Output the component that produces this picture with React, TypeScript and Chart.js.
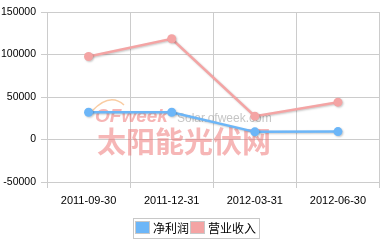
import React, { useEffect, useRef } from "react";
import { Chart, registerables } from "chart.js";

Chart.register(...registerables);

const categories = ["2011-09-30", "2011-12-31", "2012-03-31", "2012-06-30"];
const netProfit = [32000, 32000, 9000, 9300];
const revenue = [97600, 118500, 27500, 43900];
const seriesNames = ["净利润", "营业收入"];
const seriesColors = ["#6cb6f8", "#f4a4a4"];
const yTicks = [-50000, 0, 50000, 100000, 150000];

const watermark = {
  id: "watermark",
  beforeDatasetsDraw(chart: any) {
    const ctx = chart.ctx;
    ctx.save();
    ctx.strokeStyle = "rgba(245,170,100,0.6)";
    ctx.lineWidth = 1.5;
    ctx.beginPath();
    ctx.moveTo(92, 111);
    ctx.quadraticCurveTo(110, 92, 124, 105);
    ctx.stroke();
    ctx.textBaseline = "alphabetic";
    ctx.textAlign = "left";
    ctx.fillStyle = "rgba(238,120,120,0.55)";
    ctx.font = "italic bold 19px 'Liberation Sans', Arial, sans-serif";
    ctx.fillText("OFweek", 95, 122);
    ctx.fillStyle = "rgba(150,150,150,0.55)";
    ctx.font = "12px 'Liberation Sans', Arial, sans-serif";
    ctx.fillText("Solar.ofweek.com", 177, 122);
    ctx.fillStyle = "rgba(238,110,110,0.5)";
    ctx.font = "bold 29px 'Noto Sans CJK SC', sans-serif";
    ctx.fillText("太阳能光伏网", 97, 153);
    ctx.restore();
  },
};

const shadow = {
  id: "shadow",
  beforeDatasetsDraw(chart: any) {
    const ctx = chart.ctx;
    ctx.save();
    ctx.shadowColor = "rgba(0,0,0,0.22)";
    ctx.shadowBlur = 2;
    ctx.shadowOffsetX = 1;
    ctx.shadowOffsetY = 1;
  },
  afterDatasetsDraw(chart: any) {
    chart.ctx.restore();
  },
};

const boxLegend = {
  id: "boxLegend",
  afterDraw(chart: any) {
    const ctx = chart.ctx;
    ctx.save();
    ctx.font = "12px 'Noto Sans CJK SC', sans-serif";
    ctx.textBaseline = "middle";
    ctx.textAlign = "left";
    const y = 228;
    let x = 136;
    const widths = chart.data.datasets.map((d: any) => ctx.measureText(d.label).width);
    const total = widths.reduce((a: number, b: number) => a + b, 0) + chart.data.datasets.length * 18 + 2;
    ctx.strokeStyle = "#c8c8c8";
    ctx.lineWidth = 1;
    ctx.strokeRect(133.5, 218.5, total + 4, 20);
    chart.data.datasets.forEach((d: any, i: number) => {
      ctx.fillStyle = d.borderColor;
      ctx.fillRect(x, y - 6, 13, 11);
      ctx.strokeStyle = "#c8c8c8";
      ctx.strokeRect(x - 0.5, y - 6.5, 14, 12);
      ctx.fillStyle = "#000";
      ctx.fillText(d.label, x + 17, y);
      x += 18 + widths[i] + 1;
    });
    ctx.restore();
  },
};

export default function App() {
  const ref = useRef<HTMLCanvasElement>(null);
  useEffect(() => {
    if (!ref.current) return;
    const chart = new Chart(ref.current, {
      type: "line",
      data: {
        labels: categories,
        datasets: [
          {
            label: seriesNames[0],
            data: netProfit,
            borderColor: seriesColors[0],
            backgroundColor: seriesColors[0],
            borderWidth: 2.5,
            pointRadius: 4.5,
            pointBorderWidth: 0,
            tension: 0,
          },
          {
            label: seriesNames[1],
            data: revenue,
            borderColor: seriesColors[1],
            backgroundColor: seriesColors[1],
            borderWidth: 2.5,
            pointRadius: 4.5,
            pointBorderWidth: 0,
            tension: 0,
          },
        ],
      },
      options: {
        animation: false,
        responsive: false,
        layout: { padding: { top: 12, right: 2, left: 0, bottom: 31 } },
        plugins: { legend: { display: false }, tooltip: { enabled: false } },
        scales: {
          x: {
            offset: true,
            grid: { color: "#cccccc", offset: true, tickLength: 6, drawTicks: true },
            border: { color: "#cccccc" },
            ticks: {
              color: "#000",
              font: { family: "'Liberation Sans', Arial, sans-serif", size: 11 },
              padding: 6,
              maxRotation: 0,
            },
            afterFit(scale: any) {
              scale.height = 30;
            },
          },
          y: {
            min: -50000,
            max: 150000,
            afterBuildTicks(scale: any) {
              scale.ticks = yTicks.map((v) => ({ value: v }));
            },
            grid: { color: "#cccccc", tickLength: 6 },
            border: { color: "#cccccc" },
            ticks: {
              color: "#000",
              font: { family: "'Liberation Sans', Arial, sans-serif", size: 10.5 },
              padding: 5,
              callback: (v: any) => String(v),
            },
            afterFit(scale: any) {
              scale.width = 47;
            },
          },
        },
      },
      plugins: [watermark, shadow, boxLegend],
    });
    return () => chart.destroy();
  }, []);
  return (
    <div style={{ position: "fixed", left: 0, top: 0, width: 384, height: 243, background: "#fff" }}>
      <canvas ref={ref} width={384} height={243} style={{ width: 384, height: 243 }} />
    </div>
  );
}
